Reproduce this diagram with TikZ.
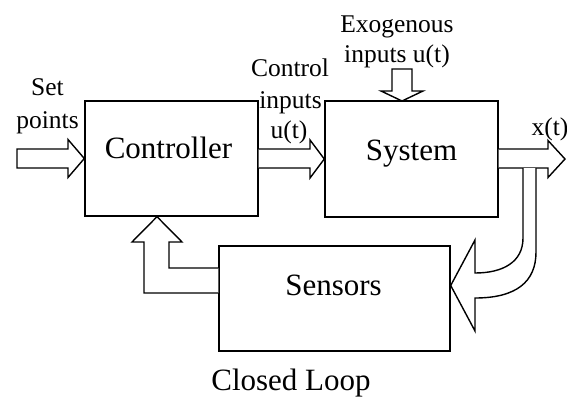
\documentclass[tikz,border=0pt]{standalone}
\usepackage{fontspec}
\setmainfont{Liberation Serif}
\begin{document}
\begin{tikzpicture}[x=1pt, y=-1pt, line width=1.4pt, line join=miter,
  block/.style={draw, fill=white, inner sep=0pt},
  bigtext/.style={inner sep=0pt, anchor=base, font=\fontsize{31}{37}\selectfont},
  smalltext/.style={inner sep=0pt, anchor=base, font=\fontsize{25.5}{30}\selectfont},
  blockarrow/.style={draw, fill=white}]
\useasboundingbox (0,0) rectangle (567,396);

% main blocks
\node[block, minimum width=173pt, minimum height=115pt] (ctrl) at (171.5,158.5) {};
\node[block, minimum width=173pt, minimum height=116pt] (sys)  at (411.5,159) {};
\node[block, minimum width=231pt, minimum height=105pt] (sens) at (334.5,298.5) {};

\node[bigtext] at ([xshift=-3pt]ctrl.center) {Controller};
\node[bigtext] at ([yshift=-1pt]sys.center) {System};
\node[bigtext] at ([xshift=-1pt,yshift=3.5pt]sens.center) {Sensors};

% set points into the controller
\draw[blockarrow] (17,149) -- (68,149) -- (68,139.5) -- (ctrl.west)
  -- (68,177.5) -- (68,168) -- (17,168) -- cycle;

% control inputs from controller to system
\draw[blockarrow] (ctrl.east |- 0,149) -- (310,149) -- (310,140) -- (sys.west)
  -- (310,178) -- (310,168) -- (ctrl.east |- 0,168);

% exogenous inputs from above
\coordinate (exotip) at (402,101);
\draw[blockarrow] (392,69) -- (392,91) -- (381,91) -- (exotip)
  -- (423,91) -- (412,91) -- (412,69) -- cycle;

% system output x(t)
\draw[blockarrow] (sys.east |- 0,149) -- (548,149) -- (548,140.5) -- (565,159)
  -- (548,177.5) -- (548,168) -- (sys.east |- 0,168);

% output bent down into the sensors
\coordinate (senstip) at (sens.east |- 0,285.5);
\draw[blockarrow] (523,168) -- (523,238) .. controls (523,262) and (503,273) .. (475,273)
  -- (475,240) -- (senstip) -- (475,331) -- (475,298)
  .. controls (516,298) and (536,282) .. (536,252) -- (536,168);

% sensors back to the controller
\coordinate (ctrltip) at (ctrl.south -| 157,0);
\draw[blockarrow] (sens.west |- 0,268) -- (169,268) -- (169,242) -- (182,242) -- (ctrltip)
  -- (132,242) -- (144,242) -- (144,293) -- (sens.west |- 0,293);

% labels
\node[smalltext] at (47.5,95) {Set};
\node[smalltext] at (47.5,128) {points};
\node[smalltext] at (290,77) {Control};
\node[smalltext] at (290.5,108) {inputs};
\node[smalltext] at (289,138) {u(t)};
\node[smalltext] at (397,33) {Exogenous};
\node[smalltext] at (397,63) {inputs u(t)};
\node[smalltext] at (550,135) {x(t)};
\node[bigtext] at (291,390) {Closed Loop};
\end{tikzpicture}
\end{document}
